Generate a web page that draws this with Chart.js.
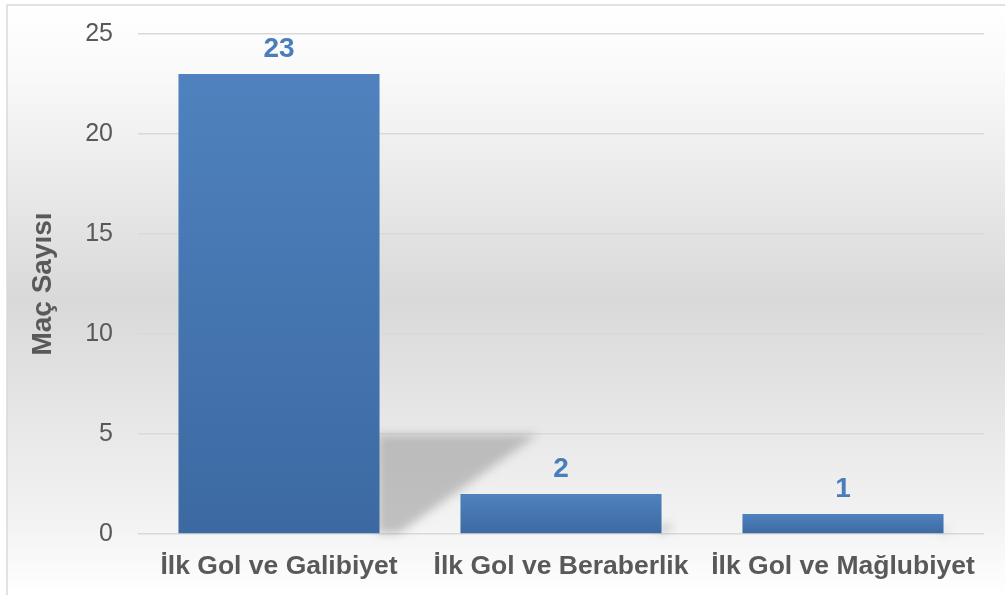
<!DOCTYPE html>
<html><head><meta charset="utf-8">
<script src="https://cdn.jsdelivr.net/npm/chart.js@4"></script>
<style>html,body{margin:0;padding:0;background:#fff;}#wrap{width:1005px;height:595px;}</style>
</head><body><div id="wrap"><canvas id="c" width="1005" height="595"></canvas></div>
<script>
const categories = ["İlk Gol ve Galibiyet", "İlk Gol ve Beraberlik", "İlk Gol ve Mağlubiyet"];
const matchCounts = [23, 2, 1];
const yAxisTitle = "Maç Sayısı";
const yMin = 0, yMax = 25, yStep = 5;

const FONT = "'Liberation Sans', Arial, sans-serif";

const bgPlugin = {
  id: 'bg',
  beforeDraw(chart) {
    const ctx = chart.ctx;
    ctx.save();
    ctx.fillStyle = '#fff';
    ctx.fillRect(0, 0, chart.width, chart.height);
    const g = ctx.createLinearGradient(0, 5, 0, 595);
    g.addColorStop(0, '#ffffff');
    g.addColorStop(0.12, '#f9f9f9');
    g.addColorStop(0.5, '#d9d9d9');
    g.addColorStop(0.88, '#f3f3f3');
    g.addColorStop(1, '#ffffff');
    ctx.fillStyle = g;
    ctx.fillRect(7, 5, chart.width, chart.height);
    ctx.strokeStyle = '#d9d9d9';
    ctx.lineWidth = 1.5;
    ctx.strokeRect(7, 5, chart.width + 10, chart.height + 10);
    ctx.restore();
  }
};

const shadowPlugin = {
  id: 'shadow',
  beforeDatasetsDraw(chart) {
    const ctx = chart.ctx;
    const meta = chart.getDatasetMeta(0);
    ctx.save();
    ctx.filter = 'blur(5px)';
    ctx.fillStyle = 'rgba(150,150,150,0.55)';
    meta.data.forEach(bar => {
      const w = bar.width, R = bar.x + w / 2, B = bar.base, H = B - bar.y;
      const sh = 0.215 * H;
      const reach = Math.min(0.8 * w, sh * 1.6);
      ctx.beginPath();
      ctx.moveTo(R - 2, B - sh);
      ctx.lineTo(R + reach, B - sh);
      ctx.lineTo(R + reach * 0.12, B);
      ctx.lineTo(R - 2, B);
      ctx.closePath();
      ctx.fill();
    });
    ctx.restore();
  }
};

const labelPlugin = {
  id: 'vals',
  afterDatasetsDraw(chart) {
    const ctx = chart.ctx;
    const meta = chart.getDatasetMeta(0);
    ctx.save();
    ctx.font = "bold 28px " + FONT;
    ctx.fillStyle = '#4a7ebb';
    ctx.textAlign = 'center';
    ctx.textBaseline = 'alphabetic';
    meta.data.forEach((bar, i) => {
      ctx.fillText(String(matchCounts[i]), bar.x, bar.y - 17);
    });
    ctx.restore();
  }
};

new Chart(document.getElementById('c'), {
  type: 'bar',
  data: {
    labels: categories,
    datasets: [{
      data: matchCounts,
      backgroundColor: (c) => {
        const chart = c.chart;
        if (!chart.chartArea || c.raw === undefined) return '#4a7ebb';
        const ys = chart.scales.y;
        const top = ys.getPixelForValue(c.raw), bot = ys.getPixelForValue(0);
        const g = chart.ctx.createLinearGradient(0, top, 0, bot);
        g.addColorStop(0, '#4f82be');
        g.addColorStop(1, '#3c69a2');
        return g;
      },
      borderWidth: 0,
      categoryPercentage: 1,
      barPercentage: 0.713
    }]
  },
  options: {
    responsive: false,
    animation: false,
    devicePixelRatio: 1,
    layout: { padding: { top: 34, right: 21, left: 0, bottom: 0 } },
    plugins: { legend: { display: false }, tooltip: { enabled: false } },
    scales: {
      x: {
        grid: { display: false, drawTicks: false },
        border: { display: false },
        ticks: { color: '#595959', font: { family: FONT, size: 26.5, weight: 'bold' }, padding: 17, maxRotation: 0, autoSkip: false },
        afterFit(s) { s.height = 61; }
      },
      y: {
        min: yMin, max: yMax,
        grid: { color: '#d9d9d9', lineWidth: 1.5, drawTicks: false },
        border: { display: false },
        ticks: { stepSize: yStep, color: '#595959', font: { family: FONT, size: 25 }, padding: 25 },
        title: { display: true, text: yAxisTitle, color: '#595959', font: { family: FONT, size: 28, weight: 'bold' }, padding: { top: 26, bottom: 0 } },
        afterFit(s) { s.width = 138; s.paddingTop = 0; s.paddingBottom = 0; }
      }
    }
  },
  plugins: [bgPlugin, shadowPlugin, labelPlugin]
});
</script></body></html>
